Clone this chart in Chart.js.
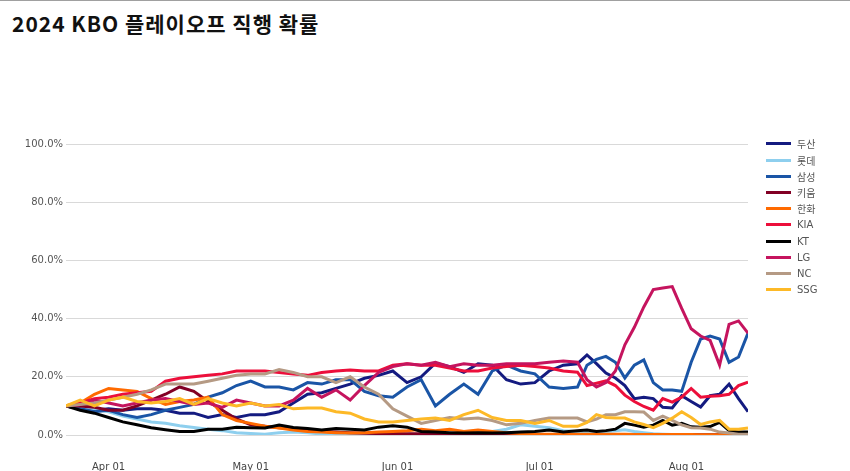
<!DOCTYPE html>
<html>
<head>
<meta charset="utf-8">
<script src="https://cdn.jsdelivr.net/npm/chart.js@4.4.1/dist/chart.umd.min.js"></script>
<style>
html,body{margin:0;padding:0;background:#fff;}
#wrap{position:relative;width:850px;height:471px;overflow:hidden;background:#fff;}
#topline{position:absolute;left:0;top:0;width:850px;height:1px;background:#a0a0a0;}
#title{position:absolute;left:12px;top:13px;font:bold 21px/21px "Noto Sans CJK KR",sans-serif;letter-spacing:1px;color:#111;white-space:nowrap;}
#chart{position:absolute;left:0;top:0;}
#legend{position:absolute;left:766px;top:135.9px;font:10px "DejaVu Sans","Noto Sans CJK KR",sans-serif;color:#555;}
.item{height:16.2px;display:flex;align-items:center;white-space:nowrap;}
.sw{width:25px;height:3px;margin-right:6px;flex:none;}
</style>
</head>
<body>
<div id="wrap">
  <div id="topline"></div>
  <div id="title">2024 KBO 플레이오프 직행 확률</div>
  <canvas id="chart" width="850" height="471"></canvas>
  <div id="legend"></div>
</div>
<script>
// Days since 2024-03-23 (opening day)
const days = [0,3,6,9,12,15,18,21,24,27,30,33,36,39,42,45,48,51,54,57,60,63,66,69,72,75,78,81,84,87,90,93,96,99,102,105,
  108,110,112,114,116,118,120,122,124,126,128,130,132,134,136,138,140,142,144];
const tickDays = [9,39,70,100,131];
const tickLabels = ["Apr 01","May 01","Jun 01","Jul 01","Aug 01"];
const teams = ["두산","롯데","삼성","키움","한화","KIA","KT","LG","NC","SSG"];
const colors = ["#141b80","#8ecfee","#1a55a6","#820024","#ff6a00","#ec0f3b","#000000","#c5145e","#b59a84","#fdb927"];

const doosan = [10,9,8.5,9,8.5,9,9,8.5,7.5,7.5,6,7,6,7,7,8,11,14,14.5,16,17.5,19.5,20.5,22,18,20,24.7,23.5,21.5,24.5,24,19,17.5,18,22,24,
  24.5,27.5,24.5,21.3,19.6,17,12.5,13,12.5,9.5,9.3,13.5,11.5,9.6,13.5,14,17.5,12.5,8];
const lotte = [10,9.5,9,8,6.5,5.5,4.5,4,3.2,2.6,2,1.5,0.8,0.5,0.3,0.8,1,0.8,0.3,0.2,0.2,0.2,0.3,0.3,0.3,0.2,0.2,0.3,0.5,0.8,1.2,2,3.5,3,2.5,1.5,
  1.2,1,0.8,1.2,1.5,1.8,1.2,0.8,0.4,0.3,0.2,0.2,0.1,0.1,0.1,0.1,0.1,0.1,0.1];
const samsung = [10,9,8,8.5,7,6,7,8.5,9.5,10.5,13,14.5,17,18.5,16.5,16.5,15.5,18,17.5,19,19,15,13.5,13,16.5,19,10,14,17.5,14,22,24,22,21,16.5,16,
  16.5,24,26,27,25,19.6,24,25.8,18,15.5,15.5,15,25,33,34,33,25,26.8,35];
const kiwoom = [10,10,9.5,8.5,8.5,10,12,14,16.5,15,11.5,8.5,5.5,3.5,3,2.5,2.2,1.8,1.3,1,0.8,0.6,0.5,0.5,0.4,0.4,0.3,0.3,0.3,0.3,0.2,0.2,0.2,0.2,0.2,0.2,
  0.2,0.2,0.2,0.2,0.2,0.2,0.2,0.2,0.2,0.2,0.2,0.2,0.2,0.1,0.1,0.1,0.1,0.1,0.1];
const hanwha = [10,11,14,16,15.5,15,12.5,10.5,11.5,12,13,7,5,4,3,2.4,1.7,1.2,1,0.8,0.7,0.8,1,1.2,1.5,2,1.5,2,1.2,1.7,1.2,0.8,0.5,0.3,0.3,0.3,
  0.3,0.3,0.3,0.3,0.3,0.3,0.2,0.2,0.2,0.2,0.2,0.2,0.2,0.1,0.1,0.1,0.1,0.1,0.1];
const kia = [10,11,12.5,13,14,14.5,15,18.5,19.5,20,20.5,21,22,22,22,21.5,21,20.5,21.5,22,22.3,22,22,24,24.5,24,24,23,22,22,23,23.5,24,23.5,23,22,
  21.6,17,17.8,18.6,17,13.7,11.5,9.8,8.5,12.5,11.3,13,16,13,13.3,13.5,14,17,18.2];
const kt = [10,8.5,7.5,6,4.5,3.5,2.5,1.8,1.2,1.2,2,2,2.7,2.5,2.4,3.4,2.6,2.2,1.7,2.2,2,1.7,2.7,3.2,2.7,1.2,1,0.8,0.7,0.8,0.7,0.8,1,1.2,1.7,1,
  1.5,1.7,1.2,1.5,2,4,3.4,2.7,3.4,5,3.4,4,2.8,2.7,2.9,4.3,1.5,1,1];
const lg = [10,10.5,12,11,10,11,12,12.5,11.5,10.5,11,9.5,12,11,10,10,12,16,13,15.5,12,17,21.5,23.5,24.5,24,25,23.5,24.5,24,24,24.5,24.5,24.5,25,25.4,
  25,19,16.5,18,22,31,37,44,50,50.5,51,43.5,36.5,34,32.5,24,38,39.2,35];
const nc = [10,10.5,11,12,13,14,15.5,17.5,17.5,17.5,18.5,19.5,20.5,21,21,22.5,21.5,20,20,18,20,16.5,14,9,6.5,4,5,6,5.5,5.8,5,3.5,4,5,5.8,5.8,
  5.8,4.5,5.5,7,7,8,8,7.9,5,6.5,5,3.5,2.5,2.4,2,1,0.7,0.3,0.3];
const ssg = [10,12,10,12,13,11.5,11,11.5,12.5,10.5,12.5,11,10,11,10,10.5,9,9.3,9.3,8,7.5,5.5,4.5,4.5,5,5.5,5.8,5,7,8.5,6,5,5,4,5,3,
  3,4.3,7,6,5.8,5.8,4.5,3.6,2.5,4,5.8,8,6,3.6,4.5,5,2,2,2.4];

const series = [doosan,lotte,samsung,kiwoom,hanwha,kia,kt,lg,nc,ssg];

Chart.defaults.font.family = "'DejaVu Sans','Noto Sans CJK KR',sans-serif";

const datasets = teams.map((t,i)=>({
  label:t,
  data:series[i],
  borderColor:colors[i],
  backgroundColor:colors[i],
  borderWidth:3,
  pointRadius:0,
  tension:0,
  fill:false,
  order:teams.length-1-i
}));

const chart = new Chart(document.getElementById('chart'), {
  type:'line',
  data:{labels:days, datasets},
  options:{
    responsive:false,
    animation:false,
    events:[],
    layout:{padding:{left:0,right:102,top:144,bottom:0}},
    plugins:{legend:{display:false},title:{display:false},tooltip:{enabled:false}},
    scales:{
      x:{
        type:'linear', min:0, max:144,
        grid:{display:false}, border:{display:false},
        afterBuildTicks:(s)=>{ s.ticks = tickDays.map(v=>({value:v})); },
        afterFit:(s)=>{ s.height = 36; },
        ticks:{padding:18,color:'#444',font:{size:10},maxRotation:0,autoSkip:false,
          callback:(v,i)=>tickLabels[i]}
      },
      y:{
        min:0,max:100,
        border:{display:false},
        grid:{color:'#d9d9d9',drawTicks:false,lineWidth:1},
        afterFit:(s)=>{ s.width = 66; },
        ticks:{stepSize:20,padding:3,color:'#555',font:{size:10},
          callback:(v)=>Number(v).toFixed(1)+'%'}
      }
    }
  }
});

// legend built from the chart's datasets
const lgEl = document.getElementById('legend');
chart.data.datasets.forEach(ds=>{
  const it = document.createElement('div'); it.className='item';
  const sw = document.createElement('span'); sw.className='sw'; sw.style.background = ds.borderColor;
  const tx = document.createElement('span'); tx.textContent = ds.label;
  it.appendChild(sw); it.appendChild(tx); lgEl.appendChild(it);
});
</script>
</body>
</html>
